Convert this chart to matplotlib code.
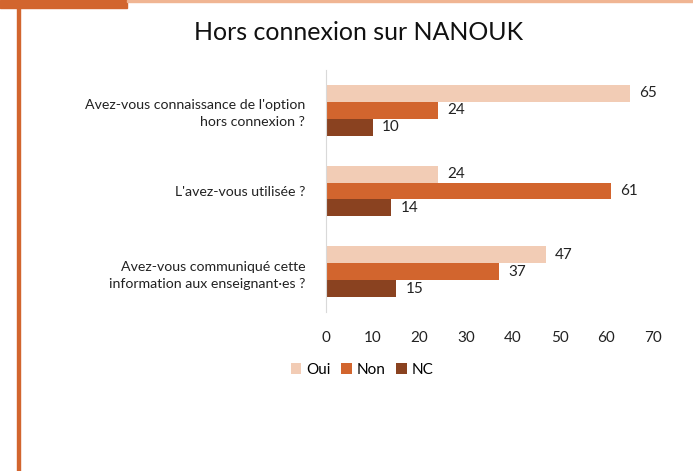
import matplotlib.pyplot as plt
import numpy as np
from matplotlib.patches import Rectangle

questions = ["Avez-vous connaissance de l'option\nhors connexion ?",
             "L'avez-vous utilisée ?",
             "Avez-vous communiqué cette\ninformation aux enseignant·es ?"]
oui = [65, 24, 47]
non = [24, 61, 37]
nc = [10, 14, 15]
series_names = ["Oui", "Non", "NC"]
colors = ["#F2CCB5", "#D2652E", "#8A4220"]
xticks = [0, 10, 20, 30, 40, 50, 60, 70]

plt.rcParams['font.family'] = ['Lato', 'DejaVu Sans']

fig = plt.figure(figsize=(6.93, 4.71), dpi=100)

# cadre decoratif
fig.patches.append(Rectangle((0, 1 - 8 / 471), 127 / 693, 8 / 471, transform=fig.transFigure,
                             color="#D2652E", zorder=0))
fig.patches.append(Rectangle((127 / 693, 1 - 2 / 471), 1, 2 / 471, transform=fig.transFigure,
                             color="#F0B593", zorder=0))
fig.patches.append(Rectangle((17 / 693, 0), 3 / 693, 1 - 8 / 471, transform=fig.transFigure,
                             color="#D2652E", zorder=0))

ax = fig.add_axes([326 / 693, 1 - 312 / 471, 327 / 693, 242 / 471])

y = np.arange(len(questions))
h = 0.21
for i, (vals, name, c) in enumerate(zip([oui, non, nc], series_names, colors)):
    pos = y + (i - 1) * h
    bars = ax.barh(pos, vals, height=h, color=c, label=name)
    for b, v in zip(bars, vals):
        ax.text(v + 2, b.get_y() + b.get_height() / 2, str(v), va="center", ha="left",
                fontsize=11, color="#222222")

ax.set_ylim(len(questions) - 0.5, -0.5)
ax.set_xlim(0, 70)
ax.set_xticks(xticks)
ax.set_yticks(y)
ax.set_yticklabels(questions, fontsize=10.2, color="#222222", linespacing=1.5)
ax.tick_params(axis="both", length=0)
ax.tick_params(axis="y", pad=15)
ax.tick_params(axis="x", pad=14, labelsize=11, labelcolor="#222222")
for s in ["top", "right", "bottom"]:
    ax.spines[s].set_visible(False)
ax.spines["left"].set_color("#D9D9D9")

fig.text(0.517, 1 - 33 / 471, "Hors connexion sur NANOUK", ha="center", va="center",
         fontsize=18, color="#111111")

ax.legend(loc="center", bbox_to_anchor=(0.11, -0.24), ncol=3, frameon=False,
          fontsize=11, handlelength=0.7, handleheight=0.7, handletextpad=0.3,
          columnspacing=0.7)

fig.savefig("out.png", dpi=100)
